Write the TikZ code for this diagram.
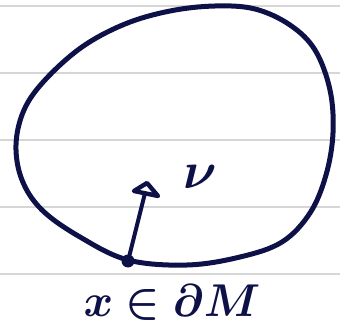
\documentclass[tikz,border=0pt]{standalone}
\usepackage{amsmath,bm}
\usetikzlibrary{arrows.meta}
\definecolor{ink}{HTML}{0E1148}
\definecolor{rule}{HTML}{D6D6D6}
\begin{document}
\begin{tikzpicture}[x=1pt,y=-1pt,
  ruled/.style={draw=rule,line width=1.6pt},
  pen/.style={draw=ink,line width=5pt,line cap=round,line join=round},
  lbl/.style={text=ink,inner sep=0pt}]
\useasboundingbox (0,0) rectangle (340,331);
\foreach \yy [count=\i] in {6,73,140,207,274}
  \draw[ruled] (0,\yy) -- (340,\yy);
\draw[pen] plot[smooth cycle,tension=0.6] coordinates {
 (128,260) (187,265) (240,257) (282,242) (310,213) (326,175) (333,133) (330,90)
 (315,50) (290,25) (255,9) (215,6) (170,11) (125,24) (82,47) (45,80) (24,110)
 (16,145) (22,180) (42,210) (80,237)};
\node[circle,fill=ink,minimum size=13pt,inner sep=0pt] (x) at (128,261) {};
\coordinate (h1) at (147,183);
\coordinate (h2) at (134,191);
\coordinate (h3) at (158,196);
\coordinate (hb) at (145,193);
\draw[pen,line width=4pt] (x.center) -- (hb);
\draw[pen,line width=4.4pt] (h1) -- (h2) -- (h3) -- cycle;
\node[lbl,scale=5.2] (nu) at (200,177) {$\bm{\nu}$};
\node[lbl,xscale=4.5,yscale=4.6] (bd) at (172,302) {$\bm{x\in\partial M}$};
\end{tikzpicture}
\end{document}
